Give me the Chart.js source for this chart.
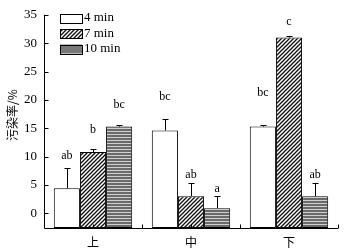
<!DOCTYPE html>
<html lang="zh">
<head>
<meta charset="UTF-8">
<title>污染率</title>
<script src="https://cdn.jsdelivr.net/npm/chart.js"></script>
<style>
  body { margin: 0; background: #fff; }
  #wrap { width: 353px; height: 252px; }
</style>
</head>
<body>
<div id="wrap"><canvas id="myChart"></canvas></div>
<script>
const categories = ['上', '中', '下'];
const seriesNames = ['4 min', '7 min', '10 min'];
const values4 = [4.4, 14.6, 15.3];
const values7 = [10.8, 3.0, 31.0];
const values10 = [15.3, 0.9, 3.0];
const errors4 = [3.6, 2.0, 0.2];
const errors7 = [0.5, 2.3, 0.2];
const errors10 = [0.3, 2.2, 2.3];
const letters4 = ['ab', 'bc', 'bc'];
const letters7 = ['b', 'ab', 'c'];
const letters10 = ['bc', 'a', 'ab'];
// where the letters sit, in y units (placed by hand in the original)
const letterY4 = [10.2, 20.5, 21.2];
const letterY7 = [14.7, 6.8, 33.8];
const letterY10 = [19.1, 4.3, 6.7];
const yTicks = [0, 5, 10, 15, 20, 25, 30, 35];
const yMin = -2.6, yMax = 35;

const serif = '"Liberation Serif", "Times New Roman", serif';

// fill patterns
function hatch() {
  const c = document.createElement('canvas');
  c.width = 4; c.height = 4;
  const g = c.getContext('2d');
  g.fillStyle = '#fff'; g.fillRect(0, 0, 4, 4);
  g.strokeStyle = '#111'; g.lineWidth = 1.3;
  [[0, 4, 4, 0], [-1, 1, 1, -1], [3, 5, 5, 3]].forEach(l => {
    g.beginPath(); g.moveTo(l[0], l[1]); g.lineTo(l[2], l[3]); g.stroke();
  });
  return g.createPattern(c, 'repeat');
}
function stripes() {
  const c = document.createElement('canvas');
  c.width = 4; c.height = 3;
  const g = c.getContext('2d');
  g.fillStyle = '#6a6a6a'; g.fillRect(0, 0, 4, 3);
  g.fillStyle = '#d0d0d0'; g.fillRect(0, 2, 4, 1);
  return g.createPattern(c, 'repeat');
}
const hatchFill = hatch();
const stripeFill = stripes();

const extras = {
  id: 'extras',
  afterDatasetsDraw(chart) {
    const ctx = chart.ctx, y = chart.scales.y, x = chart.scales.x, a = chart.chartArea;
    ctx.save();
    // error bars + letters
    chart.data.datasets.forEach((ds, i) => {
      chart.getDatasetMeta(i).data.forEach((bar, j) => {
        const bx = Math.round(bar.x) + 0.5;
        const top = y.getPixelForValue(ds.data[j]);
        const et = Math.round(y.getPixelForValue(ds.data[j] + ds.errors[j])) + 0.5;
        ctx.strokeStyle = '#000'; ctx.lineWidth = 1;
        ctx.beginPath();
        ctx.moveTo(bx, top); ctx.lineTo(bx, et);
        ctx.moveTo(bx - 3, et); ctx.lineTo(bx + 3, et);
        ctx.stroke();
        ctx.fillStyle = '#000';
        ctx.font = '12px ' + serif;
        ctx.textAlign = 'center'; ctx.textBaseline = 'middle';
        ctx.fillText(ds.letters[j], bar.x, y.getPixelForValue(ds.letterY[j]));
      });
    });
    // axes
    const L = Math.round(a.left) + 0.5, B = Math.round(a.bottom) + 0.5;
    ctx.strokeStyle = '#000'; ctx.lineWidth = 1;
    ctx.beginPath();
    ctx.moveTo(L, a.top); ctx.lineTo(L, B); ctx.lineTo(a.right, B);
    yTicks.forEach(v => {
      const p = Math.round(y.getPixelForValue(v)) + 0.5;
      ctx.moveTo(L, p); ctx.lineTo(L + 4, p);
    });
    const step = (a.right - a.left) / categories.length;
    for (let k = 0; k <= categories.length; k++) {
      const p = Math.round(a.left + k * step) + 0.5;
      if (k > 0) { ctx.moveTo(p, B); ctx.lineTo(p, B - 4); }
      if (k < categories.length) {
        const c = Math.round(x.getPixelForValue(k)) + 0.5;
        ctx.moveTo(c, B); ctx.lineTo(c, B - 4);
      }
    }
    ctx.stroke();
    // legend
    const fills = ['#fff', hatchFill, '#777'];
    ctx.font = '13px ' + serif;
    ctx.textAlign = 'left'; ctx.textBaseline = 'middle';
    seriesNames.forEach((n, k) => {
      const ty = 18 + k * 15.5;
      ctx.fillStyle = fills[k];
      ctx.fillRect(60, ty - 4.5, 22, 9);
      ctx.strokeRect(60.5, Math.round(ty - 4.5) + 0.5, 22, 9);
      ctx.fillStyle = '#000';
      ctx.fillText(n, 84, ty);
    });
    // y title
    ctx.translate(12, 115);
    ctx.rotate(-Math.PI / 2);
    ctx.font = '12px "Noto Sans CJK SC"';
    ctx.textAlign = 'center';
    ctx.fillText('污染率/%', 0, 0);
    ctx.restore();
  }
};

function mk(label, data, errors, letters, letterY, fill) {
  return {
    label: label, data: data, errors: errors, letters: letters, letterY: letterY,
    backgroundColor: fill, borderColor: '#000', borderWidth: 1, borderSkipped: false,
    base: yMin, categoryPercentage: 0.8, barPercentage: 1.0
  };
}

new Chart(document.getElementById('myChart'), {
  type: 'bar',
  data: {
    labels: categories,
    datasets: [
      mk(seriesNames[0], values4, errors4, letters4, letterY4, '#fff'),
      mk(seriesNames[1], values7, errors7, letters7, letterY7, hatchFill),
      mk(seriesNames[2], values10, errors10, letters10, letterY10, stripeFill)
    ]
  },
  options: {
    responsive: true,
    maintainAspectRatio: false,
    animation: false,
    layout: { padding: { left: 0, top: 8, right: 15, bottom: 0 } },
    plugins: { legend: { display: false }, tooltip: { enabled: false } },
    scales: {
      x: {
        grid: { display: false, drawTicks: false },
        border: { display: false },
        ticks: { color: '#000', padding: 7, font: { family: 'Noto Sans CJK SC', size: 12 } },
        afterFit(s) { s.height = 24; }
      },
      y: {
        min: yMin, max: yMax,
        grid: { display: false, drawTicks: false },
        border: { display: false },
        afterBuildTicks(s) { s.ticks = yTicks.map(v => ({ value: v })); },
        ticks: { color: '#000', padding: 7, font: { family: serif, size: 13 } },
        afterFit(s) { s.width = 44; }
      }
    }
  },
  plugins: [extras]
});
</script>
</body>
</html>
